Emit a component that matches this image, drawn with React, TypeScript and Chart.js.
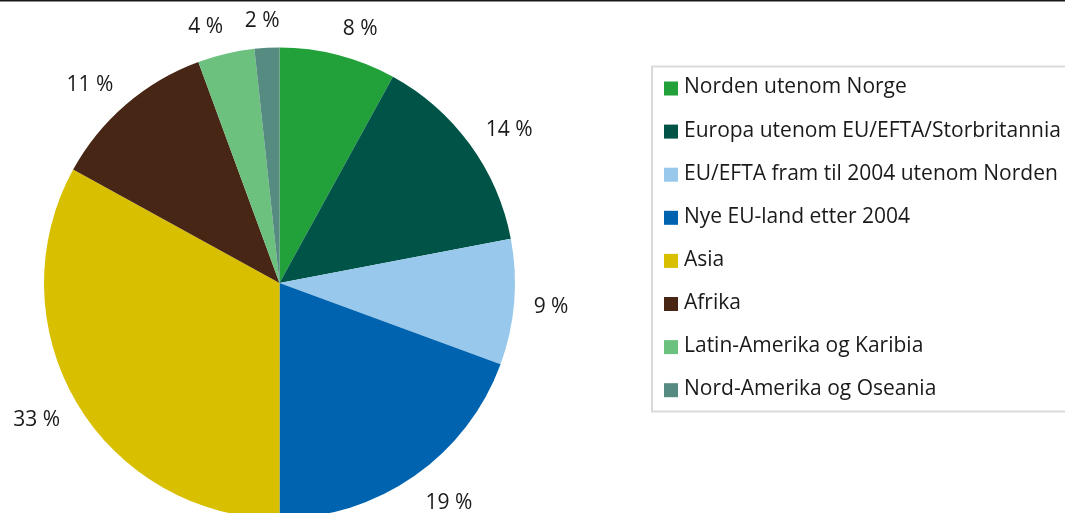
import React, { useEffect, useRef } from "react";
import { Chart, registerables } from "chart.js";

Chart.register(...registerables);

const categories = [
  "Norden utenom Norge",
  "Europa utenom EU/EFTA/Storbritannia",
  "EU/EFTA fram til 2004 utenom Norden",
  "Nye EU-land etter 2004",
  "Asia",
  "Afrika",
  "Latin-Amerika og Karibia",
  "Nord-Amerika og Oseania",
];
const values = [8.0, 14.0, 8.6, 19.4, 33.0, 11.4, 3.9, 1.7];
const colors = [
  "#22A13B",
  "#005447",
  "#98C8EC",
  "#0063AF",
  "#D8BF00",
  "#482615",
  "#6CC17E",
  "#558B80",
];

const FONT = '"Open Sans", "Noto Sans", sans-serif';

const decorPlugin = {
  id: "decor",
  beforeDraw(chart: any) {
    const ctx = chart.ctx;
    ctx.save();
    ctx.fillStyle = "#1a1a1a";
    ctx.fillRect(0, 0, chart.width, 1.5);
    ctx.restore();
  },
  afterDatasetsDraw(chart: any) {
    const ctx = chart.ctx;
    const meta = chart.getDatasetMeta(0);
    ctx.save();
    ctx.font = `21px ${FONT}`;
    ctx.fillStyle = "#1a1a1a";
    ctx.textAlign = "center";
    ctx.textBaseline = "middle";
    meta.data.forEach((arc: any, i: number) => {
      const p = arc.getProps(["x", "y", "startAngle", "endAngle", "outerRadius"], true);
      const mid = (p.startAngle + p.endAngle) / 2;
      const text = `${Math.round(values[i])} %`;
      const w = ctx.measureText(text).width;
      const h = 20;
      const r = p.outerRadius + 19.5;
      const c = Math.cos(mid);
      const s = Math.sin(mid);
      const hx = Math.max(-1, Math.min(1, c * 4));
      const cx = p.x + c * r + (hx * w) / 2;
      const cy = p.y + s * r + (s * h) / 2 + 2.5;
      ctx.fillText(text, cx, cy);
    });

    // legend box
    const bx = 652;
    const by = 66.5;
    const bw = 430;
    const bh = 345;
    ctx.strokeStyle = "#d9d9d9";
    ctx.lineWidth = 2;
    ctx.strokeRect(bx, by, bw, bh);
    ctx.textAlign = "left";
    ctx.font = `21px ${FONT}`;
    categories.forEach((c, i) => {
      const yc = 87.5 + i * 43.1;
      ctx.fillStyle = colors[i];
      ctx.fillRect(664, yc - 6, 14, 14);
      ctx.fillStyle = "#1a1a1a";
      ctx.fillText(c, 684, yc);
    });
    ctx.restore();
  },
};

export default function App() {
  const ref = useRef<HTMLCanvasElement | null>(null);
  useEffect(() => {
    if (!ref.current) return;
    const chart = new Chart(ref.current, {
      type: "pie",
      data: {
        labels: categories,
        datasets: [
          {
            data: values,
            backgroundColor: colors,
            borderWidth: 0,
            hoverOffset: 0,
            offset: 0,
          },
        ],
      },
      options: {
        responsive: false,
        animation: false,
        layout: { padding: { left: 44, right: 550, top: 47.5, bottom: 41.5 } },
        plugins: {
          legend: { display: false },
          tooltip: { enabled: false },
        },
      },
      plugins: [decorPlugin],
    });
    return () => chart.destroy();
  }, []);
  return (
    <div
      style={{
        position: "absolute",
        left: 0,
        top: 0,
        width: 1065,
        height: 513,
        overflow: "hidden",
        background: "#fff",
      }}
    >
      <canvas ref={ref} width={1065} height={560} style={{ display: "block" }} />
    </div>
  );
}
